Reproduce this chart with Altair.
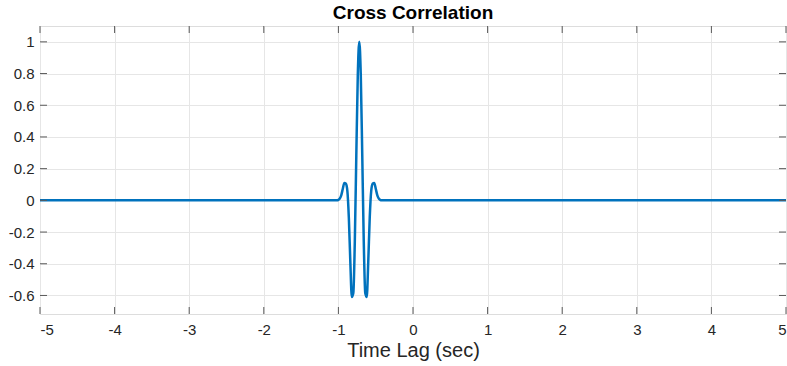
import altair as alt
import pandas as pd

# Cross-correlation curve
lag = [-5.0,
       -1.08, -1.06, -1.04, -1.02, -1.00, -0.98, -0.96, -0.94, -0.92, -0.90,
       -0.88, -0.86, -0.84, -0.82, -0.80, -0.78, -0.76, -0.74, -0.72, -0.70,
       -0.68, -0.66, -0.64, -0.62, -0.60, -0.58, -0.56, -0.54, -0.52, -0.50,
       -0.48, -0.46, -0.44, -0.42, -0.40, -0.38, -0.36,
       5.0]
corr = [0.0,
        0.0, 0.0, 0.0, 0.0, 0.003, 0.012, 0.035, 0.075, 0.11, 0.105,
        0.06, -0.11, -0.39, -0.61, -0.585, -0.26, 0.28, 0.79, 1.0, 0.79,
        0.28, -0.26, -0.585, -0.61, -0.39, -0.11, 0.06, 0.105, 0.11, 0.075,
        0.035, 0.012, 0.003, 0.0, 0.0, 0.0, 0.0,
        0.0]

x_ticks = [-5, -4, -3, -2, -1, 0, 1, 2, 3, 4, 5]
y_ticks = [-0.6, -0.4, -0.2, 0, 0.2, 0.4, 0.6, 0.8, 1]

x_domain = [-5, 5]
y_domain = [-0.717, 1.1]

W, H = 746, 288
FONT = "Liberation Sans"
TXT = "#262626"
AXC = "#595959"

df = pd.DataFrame({"lag": lag, "corr": corr})
xt = pd.DataFrame({"lag": x_ticks})
yt = pd.DataFrame({"corr": y_ticks})

xs = alt.Scale(domain=x_domain, nice=False, zero=False)
ys = alt.Scale(domain=y_domain, nice=False, zero=False)

x_axis = alt.Axis(values=x_ticks, title="Time Lag (sec)",
                  labelExpr="'' + datum.value",
                  grid=True, gridColor="#e6e6e6", domain=False, ticks=False,
                  labelFont=FONT, labelFontSize=15, labelColor=TXT,
                  labelPadding=8, titleFont=FONT, titleFontSize=20,
                  titleFontWeight="normal", titleColor=TXT,
                  titleBaseline="alphabetic", titlePadding=19)
y_axis = alt.Axis(values=y_ticks, title=None,
                  labelExpr="'' + datum.value",
                  grid=True, gridColor="#e6e6e6", domain=False, ticks=False,
                  labelFont=FONT, labelFontSize=15, labelColor=TXT,
                  labelPadding=6)

line = alt.Chart(df).mark_line(
    color="#0072BD", strokeWidth=2.5, interpolate="monotone", clip=True
).encode(
    x=alt.X("lag:Q", scale=xs, axis=x_axis),
    y=alt.Y("corr:Q", scale=ys, axis=y_axis),
)

tick_len = 7
xb = alt.Chart(xt).mark_rule(color=AXC, strokeWidth=1).encode(
    x=alt.X("lag:Q", scale=xs, axis=x_axis), y=alt.value(H), y2=alt.value(H - tick_len))
xtop = alt.Chart(xt).mark_rule(color=AXC, strokeWidth=1).encode(
    x=alt.X("lag:Q", scale=xs, axis=x_axis), y=alt.value(0), y2=alt.value(tick_len))
yl = alt.Chart(yt).mark_rule(color=AXC, strokeWidth=1).encode(
    y=alt.Y("corr:Q", scale=ys, axis=y_axis), x=alt.value(0), x2=alt.value(tick_len))
yr = alt.Chart(yt).mark_rule(color=AXC, strokeWidth=1).encode(
    y=alt.Y("corr:Q", scale=ys, axis=y_axis), x=alt.value(W), x2=alt.value(W - tick_len))

chart = alt.layer(line, xb, xtop, yl, yr).properties(
    width=W, height=H,
    title=alt.TitleParams("Cross Correlation", font=FONT, fontSize=19,
                          fontWeight="bold", color="black", anchor="middle",
                          offset=3),
    autosize=alt.AutoSizeParams(type="none"),
    padding={"left": 40, "top": 26, "right": 1, "bottom": 52},
).configure_view(stroke=AXC, strokeWidth=1).configure(background="white")

chart.save("out.html", embed_options={"renderer": "svg", "actions": False})
